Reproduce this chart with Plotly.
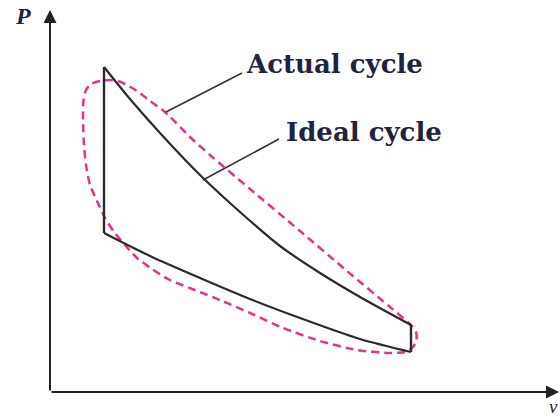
import plotly.graph_objects as go

# Ideal cycle (schematic units: v to the right, P upward)
ideal_exp_v = [54, 80, 110, 150, 190, 230, 270, 310, 361]
ideal_exp_P = [325, 293, 259, 217, 180, 146, 119, 95, 67]
ideal_cmp_v = [54, 100, 150, 200, 250, 310, 361]
ideal_cmp_P = [159, 136, 114, 93, 74, 53, 40]

# Actual cycle (closed loop)
actual_v = [60, 50, 41, 36, 33.5, 33, 34, 36, 40, 47, 55, 64, 75, 87, 102, 120, 150, 170,
            200, 233, 270, 307, 340, 355, 363, 366.5, 366, 362, 340, 297, 250, 200, 160,
            140, 115, 100, 90, 77, 68, 60]
actual_P = [312, 311, 308, 302, 292, 272, 247, 227, 207, 191, 174, 160, 147, 134, 123, 112,
            100, 92, 79, 64, 51, 42, 39, 40, 45, 52, 60, 66, 85, 121, 161, 203, 237, 255,
            280, 291, 299, 307, 311, 312]

labels = ["Actual cycle", "Ideal cycle"]
label_v = [194, 234]
label_P = [328, 260]
leader_from_v = [116, 153]
leader_from_P = [280, 212]
leader_to_v = [192, 229]
leader_to_P = [319, 253]

BLACK = "#2b2b2b"
PINK = "#e8308c"
TXT = "#1f2340"

fig = go.Figure()

fig.add_trace(go.Scatter(x=actual_v, y=actual_P, mode="lines",
                         line=dict(color=PINK, width=2.5, dash="8px,5px", shape="spline",
                                   smoothing=0.6),
                         hoverinfo="skip", showlegend=False))

fig.add_trace(go.Scatter(x=ideal_exp_v, y=ideal_exp_P, mode="lines",
                         line=dict(color=BLACK, width=2.2, shape="spline", smoothing=0.8),
                         hoverinfo="skip", showlegend=False))
fig.add_trace(go.Scatter(x=ideal_cmp_v, y=ideal_cmp_P, mode="lines",
                         line=dict(color=BLACK, width=2.2, shape="spline", smoothing=0.8),
                         hoverinfo="skip", showlegend=False))
fig.add_trace(go.Scatter(x=[ideal_exp_v[0], ideal_cmp_v[0]], y=[ideal_exp_P[0], ideal_cmp_P[0]],
                         mode="lines", line=dict(color=BLACK, width=2.4),
                         hoverinfo="skip", showlegend=False))
fig.add_trace(go.Scatter(x=[ideal_exp_v[-1], ideal_cmp_v[-1]], y=[ideal_exp_P[-1], ideal_cmp_P[-1]],
                         mode="lines", line=dict(color=BLACK, width=2.4),
                         hoverinfo="skip", showlegend=False))

for i in range(len(labels)):
    fig.add_trace(go.Scatter(x=[leader_from_v[i], leader_to_v[i]],
                             y=[leader_from_P[i], leader_to_P[i]], mode="lines",
                             line=dict(color="#333333", width=1.6),
                             hoverinfo="skip", showlegend=False))

annotations = []
for i, t in enumerate(labels):
    annotations.append(dict(x=label_v[i], y=label_P[i], text=t, showarrow=False,
                            xanchor="left", yanchor="middle",
                            font=dict(family="DejaVu Serif", size=26, color=TXT, weight="bold")))

annotations.append(dict(x=0, y=382, ax=0, ay=0, axref="x", ayref="y", xref="x", yref="y",
                        text="", showarrow=True, arrowhead=2, arrowsize=1.3, arrowwidth=2,
                        arrowcolor="#222222"))
annotations.append(dict(x=509, y=0, ax=0, ay=0, axref="x", ayref="y", xref="x", yref="y",
                        text="", showarrow=True, arrowhead=2, arrowsize=1.3, arrowwidth=2,
                        arrowcolor="#222222"))
annotations.append(dict(x=-27, y=376, text="<b><i>P</i></b>", showarrow=False,
                        xanchor="center", yanchor="middle",
                        font=dict(family="Liberation Serif", size=24, color=TXT)))
annotations.append(dict(x=510, y=-14, text="<i>v</i>", showarrow=False,
                        xanchor="right", yanchor="middle",
                        font=dict(family="Liberation Serif", size=19, color=TXT)))

fig.update_layout(
    width=560, height=417,
    margin=dict(l=0, r=0, t=0, b=0),
    paper_bgcolor="white", plot_bgcolor="white",
    xaxis=dict(range=[-50, 510], visible=False, fixedrange=True),
    yaxis=dict(range=[-25, 392], visible=False, fixedrange=True),
    annotations=annotations,
    showlegend=False,
)

fig.write_html("out.html",
               config={"displayModeBar": False, "staticPlot": True},
               post_script="document.body.style.margin='0';document.body.style.overflow='hidden';")
